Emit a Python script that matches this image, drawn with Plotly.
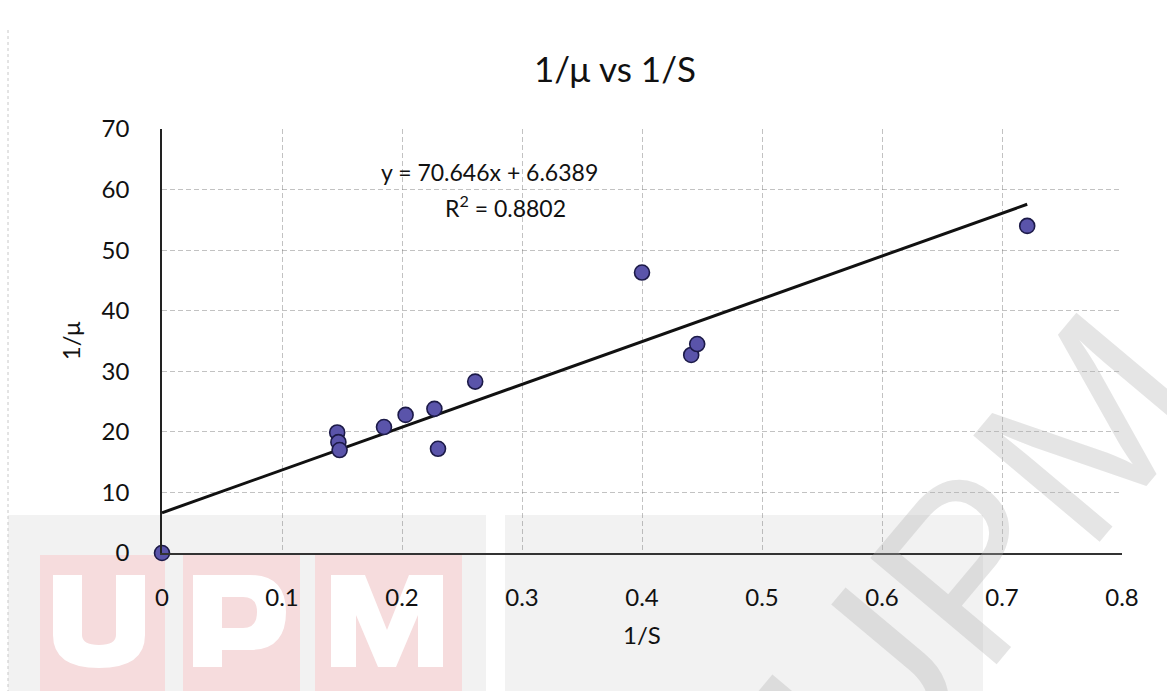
import plotly.graph_objects as go

# ---- data ----
inv_S = [0.0, 0.146, 0.147, 0.148, 0.185, 0.203, 0.227, 0.230, 0.261, 0.400, 0.441, 0.446, 0.721]
inv_mu = [0.0, 19.9, 18.3, 17.0, 20.8, 22.8, 23.8, 17.2, 28.3, 46.3, 32.7, 34.5, 54.0]
slope = 70.646
intercept = 6.6389
r2 = 0.8802
x_ticks = [0, 0.1, 0.2, 0.3, 0.4, 0.5, 0.6, 0.7, 0.8]
y_ticks = [0, 10, 20, 30, 40, 50, 60, 70]

W, H = 1167, 691
ML, MR, MT, MB = 162, 45, 129, 138
PW, PH = W - ML - MR, H - MT - MB
FONT = "Lato"


def px(x):
    return (x - ML) / PW


def py(y):
    return (H - MB - y) / PH


def path(cmds):
    out = []
    for c in cmds:
        if isinstance(c, str):
            out.append(c)
        else:
            out.append(f"{px(c[0]):.5f},{py(c[1]):.5f}")
    return " ".join(out)


trend_x = [0.0, max(inv_S)]
trend_y = [slope * v + intercept for v in trend_x]

fig = go.Figure()
fig.add_trace(go.Scatter(x=trend_x, y=trend_y, mode="lines",
                         line=dict(color="#111111", width=3), hoverinfo="skip",
                         showlegend=False))
fig.add_trace(go.Scatter(x=inv_S, y=inv_mu, mode="markers", cliponaxis=False,
                         marker=dict(size=15, color="#5a54aa",
                                     line=dict(color="#1c1a48", width=1.6)),
                         showlegend=False))

shapes = []
# scanned watermark background (grey band + pink UPM blocks)
shapes.append(dict(type="rect", xref="paper", yref="paper", x0=px(8), x1=px(486),
                   y0=py(691), y1=py(515), fillcolor="#f2f2f2", line_width=0, layer="below"))
shapes.append(dict(type="rect", xref="paper", yref="paper", x0=px(505), x1=px(983),
                   y0=py(691), y1=py(515), fillcolor="#f2f2f2", line_width=0, layer="below"))
for (a, b) in [(40, 165), (183, 300), (315, 462)]:
    shapes.append(dict(type="rect", xref="paper", yref="paper", x0=px(a), x1=px(b),
                       y0=py(691), y1=py(555), fillcolor="#f6dcdd", line_width=0, layer="below"))
U = ["M", (53, 575), "L", (82, 575), "L", (82, 635), "Q", (82, 645), (99, 645),
     "Q", (116, 645), (116, 635), "L", (116, 575), "L", (145, 575), "L", (145, 635),
     "Q", (145, 668), (99, 668), "Q", (53, 668), (53, 635), "Z"]
P = ["M", (193, 575), "L", (250, 575), "Q", (286, 575), (286, 612), "Q", (286, 650), (250, 650),
     "L", (222, 650), "L", (222, 667), "L", (193, 667), "Z"]
Phole = ["M", (222, 597), "L", (243, 597), "Q", (257, 597), (257, 612), "Q", (257, 628), (243, 628),
         "L", (222, 628), "Z"]
M = ["M", (331, 667), "L", (331, 575), "L", (365, 575), "L", (387, 630), "L", (409, 575),
     "L", (443, 575), "L", (443, 667), "L", (418, 667), "L", (418, 615), "L", (396, 667),
     "L", (378, 667), "L", (356, 615), "L", (356, 667), "Z"]
for p, col in [(U, "white"), (P, "white"), (Phole, "#f6dcdd"), (M, "white")]:
    shapes.append(dict(type="path", xref="paper", yref="paper", path=path(p),
                       fillcolor=col, line_width=0, layer="below"))
# faint scanned page edge on the left
shapes.append(dict(type="line", xref="paper", yref="paper", x0=px(8), x1=px(8),
                   y0=py(30), y1=py(691), line=dict(color="#c8c8c8", width=1, dash="dot"),
                   layer="below"))

annotations = [
    dict(text="y = 70.646x + 6.6389", x=px(489), y=py(172), xref="paper", yref="paper",
         xanchor="center", yanchor="middle",
         showarrow=False, font=dict(family=FONT, size=23, color="#111111")),
    dict(text="R<sup>2</sup> = 0.8802", x=px(505), y=py(206), xref="paper", yref="paper",
         xanchor="center", yanchor="middle",
         showarrow=False, font=dict(family=FONT, size=23, color="#111111")),
    dict(text="UPM", x=px(980), y=py(555), xref="paper", yref="paper", showarrow=False,
         xanchor="center", yanchor="middle",
         textangle=-50, font=dict(family="Liberation Sans", size=240,
                                  color="rgba(175,175,175,0.33)")),
]

fig.update_layout(
    width=W, height=H,
    margin=dict(l=ML, r=MR, t=MT, b=MB, pad=0),
    paper_bgcolor="white",
    plot_bgcolor="rgba(0,0,0,0)",
    title=dict(text="1/μ vs 1/S", x=px(615), xref="paper", y=1 - 70 / H, yref="container",
               xanchor="center", yanchor="middle",
               font=dict(family=FONT, size=35, color="#111111")),
    font=dict(family=FONT, color="#111111"),
    shapes=shapes,
    annotations=annotations,
    showlegend=False,
)
grid = "rgba(120,120,120,0.45)"
fig.update_xaxes(range=[0, 0.8], tickvals=x_ticks, ticktext=[f"{v:g}" for v in x_ticks],
                 showgrid=True, gridcolor=grid, griddash="5px,3px", gridwidth=1,
                 zeroline=False, showline=True, linecolor="#333333", linewidth=1.5,
                 ticks="", ticklabelstandoff=22, tickfont=dict(size=24, family=FONT),
                 title=dict(text="1/S", font=dict(size=24, family=FONT), standoff=18))
fig.update_yaxes(range=[0, 70], tickvals=y_ticks,
                 showgrid=True, gridcolor=grid, griddash="5px,3px", gridwidth=1,
                 zeroline=False, showline=True, linecolor="#222222", linewidth=1.5,
                 ticks="", ticklabelstandoff=26, tickfont=dict(size=24, family=FONT),
                 title=dict(text="1/μ", font=dict(size=24, family=FONT), standoff=14))

fig.write_html("out.html", config={"displayModeBar": False},
               post_script="document.body.style.margin='0';")
